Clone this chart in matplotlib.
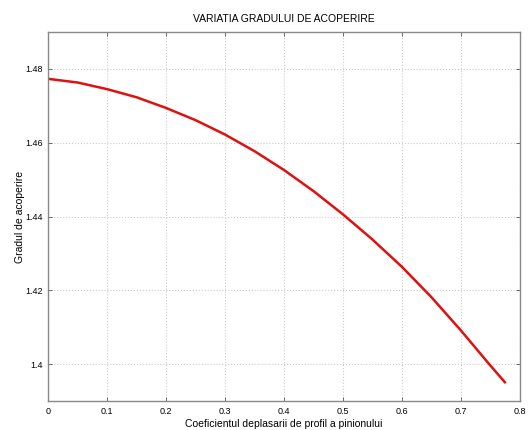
import matplotlib
matplotlib.use("Agg")
import matplotlib.pyplot as plt

# coeficientul deplasarii de profil / gradul de acoperire
x_coef = [0, 0.05, 0.1, 0.15, 0.2, 0.25, 0.3, 0.35, 0.4, 0.45,
          0.5, 0.55, 0.6, 0.65, 0.7, 0.75, 0.775]
grad_acop = [1.4773, 1.4763, 1.4745, 1.4723, 1.4694, 1.4661, 1.4622, 1.4577, 1.4526, 1.4469,
             1.4406, 1.4338, 1.4264, 1.4182, 1.4092, 1.3997, 1.3951]
x_ticks = [0, 0.1, 0.2, 0.3, 0.4, 0.5, 0.6, 0.7, 0.8]
y_ticks = [1.40, 1.42, 1.44, 1.46, 1.48]
y_labels = ["1.4", "1.42", "1.44", "1.46", "1.48"]

plt.rcParams['font.family'] = ['Liberation Sans', 'DejaVu Sans']

fig = plt.figure(figsize=(5.28, 4.30), dpi=100)
ax = fig.add_axes([0.0917, 0.0674, 0.8923, 0.8582])

ax.plot(x_coef, grad_acop, color="#e01010", linewidth=1.8)

ax.set_xlim(0, 0.8)
ax.set_ylim(1.39, 1.49)
ax.set_xticks(x_ticks)
ax.set_xticklabels([f"{v:g}" for v in x_ticks])
ax.set_yticks(y_ticks)
ax.set_yticklabels(y_labels)
ax.tick_params(direction="in", length=3, width=0.6, color="#555555",
               labelsize=6.5, top=True, right=True, pad=4)
ax.grid(True, linestyle=":", color="#cccccc", linewidth=0.8)
for s in ax.spines.values():
    s.set_color("#888888")
    s.set_linewidth(1.0)

ax.set_title("VARIATIA GRADULUI DE ACOPERIRE", fontsize=7.5, pad=7)
ax.set_xlabel("Coeficientul deplasarii de profil a pinionului", fontsize=7.5, labelpad=2.5)
ax.set_ylabel("Gradul de acoperire", fontsize=7.5, labelpad=0.5)

fig.savefig("out.png", dpi=100)
